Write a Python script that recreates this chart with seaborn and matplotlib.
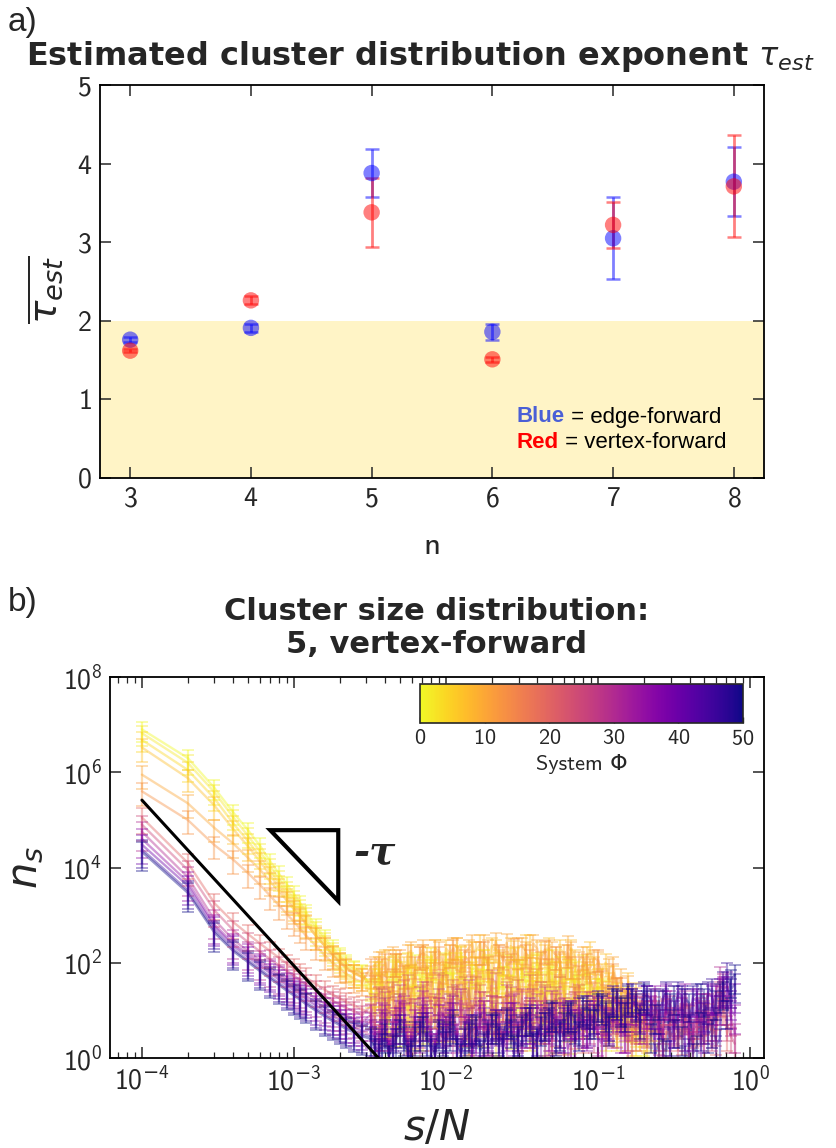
import numpy as np
import pandas as pd
import matplotlib
matplotlib.use("Agg")
import matplotlib.pyplot as plt
import matplotlib.ticker as mticker
import seaborn as sns
from matplotlib.colors import Normalize
from matplotlib.cm import ScalarMappable
from matplotlib.patches import Polygon

# ---------------- panel a data ----------------
n_values = [3, 4, 5, 6, 7, 8]
tau_edge = [1.76, 1.91, 3.88, 1.86, 3.05, 3.77]
tau_edge_err = [0.03, 0.05, 0.30, 0.10, 0.52, 0.44]
tau_vertex = [1.62, 2.26, 3.38, 1.51, 3.22, 3.71]
tau_vertex_err = [0.02, 0.05, 0.44, 0.03, 0.29, 0.65]
shade_top = 2.0

# ---------------- panel b data ----------------
N_system = 10000
s_values = [1, 2, 3, 4, 5, 6, 7, 8, 9, 10, 11, 12, 14, 16, 18, 20, 22, 25, 28,
            32, 36, 40, 45, 50, 56, 63, 71, 80, 90, 100, 112, 126, 141, 158, 178, 200, 224,
            251, 282, 316, 355, 398, 447, 501, 562, 631, 708, 794, 891, 1000, 1122, 1259,
            1413, 1585, 1778, 1995,
            2239, 2512, 2818, 3162, 3548, 3981, 4467, 5012, 5623, 6310, 7079, 7943]
# extra cluster sizes in the dense region (between the ones above)
s_values_mid = [34, 38, 42, 47, 53, 59, 67, 75, 85, 95, 106, 119, 133, 149, 168, 189, 212, 237,
                266, 299, 335, 376, 422, 473, 531, 596, 668, 750, 841, 944, 1059, 1189, 1334,
                1496, 1679, 1884, 2113, 2371, 2661, 2985, 3350, 3758, 4217, 4732, 5309, 5957,
                6683, 7499]
phi_values = [0, 2, 4, 7, 10, 13, 20, 25, 30, 35, 40, 47, 50]
N_ = None
# log10(n_s), one list per system Phi
log_ns_phi00 = [6.90, 6.30, 5.67, 5.15, 4.78, 4.45, 4.12, 3.86, 3.64, 3.44, 3.25, 3.06, 2.76, 2.52, 2.32, 2.14, 2.00, 1.88, 1.80,
                1.45, 1.80, 1.10, 1.90, 0.50, 1.75, 2.00, 1.30, 1.85, 0.90, 2.05, 1.60, 1.95, 0.30, 1.80, 2.10, 1.20, 1.70,
                2.00, 0.70, 1.90, 1.45, 2.05, 1.00, 1.75, 1.95, 0.60, 1.85, 1.30, 1.65, 1.50, 0.40, 1.40, 1.10, 0.80, 0.50, 0.30,
                N_, N_, N_, N_, N_, N_, N_, N_, N_, N_, N_, N_]
mid_ns_phi00 = [1.20, 1.60, 0.70, 1.85, 1.30, 0.40, 1.70, 1.95, 0.90, 1.60, 1.90, 1.15, 0.50, 1.80, 1.45, 2.00, 0.80, 1.75,
                1.55, 1.25, 1.95, 0.60, 1.65, 1.85, 1.05, 1.70, 0.35, 1.55, 1.80, 1.20, 1.45, 0.90, 1.10, 0.60, 0.85, 0.40,
                N_, N_, N_, N_, N_, N_, N_, N_, N_, N_, N_, N_]
log_ns_phi02 = [6.82, 6.20, 5.58, 5.05, 4.66, 4.33, 4.02, 3.76, 3.54, 3.35, 3.16, 2.98, 2.70, 2.46, 2.26, 2.10, 1.96, 1.85, 1.78,
                1.50, 1.85, 0.80, 1.95, 1.60, 2.05, 1.20, 1.90, 2.15, 0.60, 2.00, 1.75, 2.20, 1.30, 1.95, 2.10, 0.90, 2.05,
                1.55, 2.15, 1.85, 0.40, 2.00, 1.70, 2.10, 1.20, 1.90, 1.50, 2.00, 0.80, 1.70, 1.45, 1.10, 1.30, 0.70, 0.30, N_,
                N_, N_, N_, N_, N_, N_, N_, N_, N_, N_, N_, N_]
mid_ns_phi02 = [1.70, 0.90, 1.55, 2.00, 1.10, 1.80, 1.35, 0.55, 1.90, 1.65, 1.00, 2.05, 1.50, 1.85, 0.70, 1.95, 1.40, 1.75,
                0.45, 1.90, 1.60, 2.00, 1.15, 1.80, 1.45, 0.80, 1.90, 1.35, 1.60, 0.95, 1.50, 1.20, 0.50, 1.00, 0.60, N_,
                N_, N_, N_, N_, N_, N_, N_, N_, N_, N_, N_, N_]
log_ns_phi04 = [6.68, 6.05, 5.45, 4.92, 4.55, 4.22, 3.92, 3.67, 3.45, 3.26, 3.08, 2.90, 2.62, 2.40, 2.20, 2.04, 1.92, 1.80, 1.72,
                1.30, 1.70, 0.70, 1.60, 1.85, 1.00, 1.75, 0.40, 1.90, 1.50, 1.80, 0.80, 1.95, 1.30, 1.70, 0.50, 1.85, 1.60,
                1.20, 1.90, 0.90, 1.75, 1.45, 0.30, 1.65, 1.85, 1.10, 1.50, 0.70, 1.60, 1.30, 1.00, 0.60, 1.20, 0.40, 0.80, 0.50,
                0.40, 0.20, N_, N_, N_, N_, N_, N_, N_, N_, N_, N_]
mid_ns_phi04 = [0.90, 1.45, 1.20, 0.50, 1.70, 1.35, 0.80, 1.60, 1.10, 1.75, 0.60, 1.50, 1.85, 0.95, 1.40, 1.65, 0.30, 1.55,
                1.30, 1.70, 0.75, 1.45, 1.20, 1.60, 0.50, 1.35, 1.75, 0.85, 1.25, 1.05, 0.70, 1.15, 0.40, 0.90, 0.30, 0.60,
                0.25, N_, N_, N_, N_, N_, N_, N_, N_, N_, N_, N_]
log_ns_phi07 = [6.52, 5.88, 5.30, 4.80, 4.44, 4.12, 3.83, 3.58, 3.37, 3.18, 3.00, 2.83, 2.56, 2.34, 2.15, 2.00, 1.88, 1.77, 1.70,
                1.60, 1.95, 2.10, 1.20, 2.00, 1.75, 0.50, 2.20, 2.05, 1.40, 2.30, 1.90, 2.15, 0.90, 2.25, 1.60, 2.35, 2.10,
                1.00, 2.28, 1.80, 2.40, 1.50, 2.20, 0.40, 2.30, 1.95, 2.10, 1.65, 2.25, 1.20, 2.00, 1.75, 0.70, 1.60, 1.40, 0.90,
                N_, N_, N_, N_, N_, N_, N_, N_, N_, N_, N_, N_]
mid_ns_phi07 = [1.85, 2.05, 1.30, 2.10, 1.95, 2.20, 0.90, 2.15, 2.30, 1.70, 2.20, 2.35, 1.40, 2.25, 2.40, 1.90, 2.30, 1.10,
                2.35, 2.15, 2.40, 1.60, 2.25, 2.35, 1.85, 2.20, 2.30, 1.30, 2.15, 1.95, 1.80, 1.60, 1.40, 1.10, 0.80, 0.60,
                N_, N_, N_, N_, N_, N_, N_, N_, N_, N_, N_, N_]
log_ns_phi10 = [5.95, 5.35, 4.83, 4.50, 4.20, 3.95, 3.70, 3.50, 3.30, 3.12, 2.96, 2.81, 2.56, 2.35, 2.17, 2.02, 1.90, 1.78, 1.70,
                1.75, 2.05, 1.40, 2.15, 0.90, 2.20, 1.60, 2.30, 1.10, 2.25, 1.85, 2.35, 0.70, 2.30, 1.95, 2.40, 1.30, 2.20,
                2.42, 1.00, 2.35, 1.70, 2.30, 0.60, 2.25, 2.00, 2.38, 1.20, 2.15, 1.90, 2.05, 0.80, 1.95, 1.70, 1.55, 1.30, 1.00,
                N_, N_, N_, N_, N_, N_, N_, N_, N_, N_, N_, N_]
mid_ns_phi10 = [1.95, 1.60, 2.10, 2.00, 1.45, 2.25, 2.15, 1.75, 2.30, 2.00, 1.20, 2.35, 2.20, 2.40, 1.65, 2.30, 2.45, 2.05,
                1.50, 2.35, 2.25, 2.40, 1.90, 2.30, 2.15, 1.40, 2.25, 2.05, 1.85, 2.10, 1.70, 1.90, 1.50, 1.25, 1.05, 0.70,
                0.40, N_, N_, N_, N_, N_, N_, N_, N_, N_, N_, N_]
log_ns_phi13 = [5.60, 5.00, 4.47, 4.16, 3.88, 3.63, 3.40, 3.20, 3.02, 2.86, 2.71, 2.57, 2.35, 2.15, 2.00, 1.88, 1.77, 1.66, 1.60,
                1.90, 1.30, 2.00, 1.70, 2.10, 0.60, 1.95, 2.20, 1.50, 2.15, 1.00, 2.30, 1.85, 2.05, 1.40, 2.25, 0.80, 2.20,
                1.95, 2.32, 1.25, 2.10, 1.70, 2.28, 1.05, 2.05, 2.20, 0.50, 1.95, 1.60, 2.10, 1.35, 1.80, 1.50, 1.20, 0.60, N_,
                N_, N_, N_, N_, N_, N_, N_, N_, N_, N_, N_, N_]
mid_ns_phi13 = [1.55, 1.90, 1.05, 2.00, 1.75, 1.30, 2.15, 1.60, 2.05, 0.90, 2.20, 1.80, 2.10, 1.55, 2.25, 1.95, 0.80, 2.15,
                2.00, 1.70, 2.20, 1.35, 2.05, 1.90, 2.15, 1.00, 1.95, 1.75, 2.00, 1.40, 1.65, 1.30, 1.50, 0.90, 0.70, 0.45,
                N_, N_, N_, N_, N_, N_, N_, N_, N_, N_, N_, N_]
log_ns_phi20 = [5.05, 4.10, 3.25, 2.85, 2.60, 2.40, 2.24, 2.10, 1.98, 1.88, 1.78, 1.69, 1.55, 1.43, 1.33, 1.25, 1.18, 1.10, 1.02,
                0.95, 1.30, 0.60, 1.40, 0.90, 1.55, 0.30, 1.35, 1.10, 1.60, 0.70, 1.45, 1.20, 0.40, 1.50, 1.00, 1.65, 0.80,
                1.40, 1.20, 0.50, 1.55, 1.00, 1.35, 0.70, 1.50, 0.90, 1.30, 0.45, 1.20, 1.00, 0.60, 1.10, 0.80, 1.25, 0.50, 1.00,
                0.70, 1.00, 0.50, 0.80, 0.40, 0.90, 0.60, 0.30, 0.70, 1.20, 0.50, N_]
mid_ns_phi20 = [1.15, 0.50, 1.30, 0.80, 1.45, 1.05, 0.35, 1.40, 0.95, 1.55, 0.60, 1.25, 1.50, 0.85, 1.35, 0.45, 1.60, 1.10,
                0.70, 1.45, 1.20, 0.55, 1.40, 0.95, 1.30, 0.40, 1.15, 1.35, 0.75, 1.05, 0.85, 1.20, 0.55, 0.95, 0.70, 1.10,
                0.60, 0.90, 0.35, 0.75, 0.50, 0.85, 0.20, 0.65, 0.95, 0.40, 1.05, N_]
log_ns_phi25 = [4.90, 3.95, 3.10, 2.68, 2.43, 2.23, 2.07, 1.94, 1.83, 1.73, 1.63, 1.55, 1.42, 1.30, 1.20, 1.12, 1.05, 0.98, 0.90,
                1.10, 0.50, 1.20, 0.80, 1.35, 0.40, 1.05, 1.40, 0.70, 1.25, 0.30, 1.30, 0.95, 1.45, 0.60, 1.20, 1.00, 0.35,
                1.35, 0.85, 1.25, 0.55, 1.15, 1.30, 0.40, 1.05, 0.80, 1.20, 0.60, 0.95, 1.10, 0.30, 0.85, 1.00, 0.50, 0.90, 1.15,
                0.80, 0.40, 1.05, 0.60, 0.90, 0.30, 0.75, 1.00, 0.50, 1.40, 0.70, 0.30]
mid_ns_phi25 = [0.70, 1.25, 0.30, 1.10, 0.95, 0.45, 1.30, 0.75, 1.15, 0.25, 1.05, 1.35, 0.60, 0.90, 1.20, 0.40, 1.10, 0.80,
                1.30, 0.50, 0.95, 1.25, 0.65, 0.85, 1.15, 0.35, 1.00, 0.75, 1.20, 0.45, 0.90, 0.60, 1.05, 0.70, 0.30, 0.95,
                0.55, 1.10, 0.65, 0.85, 0.25, 0.95, 0.55, 0.80, 1.15, 0.60, 1.30, 0.45]
log_ns_phi30 = [4.75, 3.80, 2.90, 2.48, 2.24, 2.04, 1.88, 1.75, 1.64, 1.55, 1.45, 1.37, 1.25, 1.14, 1.05, 0.97, 0.90, 0.82, 0.76,
                0.90, 0.40, 1.05, 0.70, 1.15, 0.25, 0.95, 1.20, 0.55, 1.05, 0.85, 0.30, 1.25, 0.65, 1.00, 0.45, 1.10, 0.80,
                0.20, 1.15, 0.60, 1.00, 0.40, 0.90, 1.20, 0.50, 0.85, 0.30, 1.00, 0.70, 0.45, 1.05, 0.60, 0.90, 0.35, 1.10, 0.80,
                1.00, 0.55, 1.20, 0.70, 1.05, 0.40, 0.95, 1.15, 0.60, 1.70, 1.10, 0.50]
mid_ns_phi30 = [0.55, 0.95, 0.20, 0.85, 1.10, 0.40, 0.75, 1.00, 0.30, 0.90, 1.15, 0.50, 0.80, 0.20, 1.05, 0.70, 0.95, 0.35,
                1.10, 0.65, 0.85, 0.25, 1.00, 0.55, 0.75, 1.05, 0.40, 0.90, 0.60, 1.10, 0.35, 0.80, 1.00, 0.50, 1.15, 0.70,
                0.90, 1.25, 0.45, 1.10, 0.80, 1.20, 0.35, 1.05, 0.75, 1.35, 1.55, 0.85]
log_ns_phi35 = [4.60, 3.70, 2.80, 2.40, 2.18, 1.98, 1.83, 1.70, 1.58, 1.48, 1.39, 1.30, 1.17, 1.06, 0.96, 0.88, 0.80, 0.72, 0.65,
                0.75, 0.30, 0.90, 0.55, 1.00, 0.20, 0.80, 1.05, 0.40, 0.90, 0.65, 1.10, 0.25, 0.85, 0.50, 1.00, 0.70, 0.30,
                0.95, 0.45, 0.85, 1.05, 0.35, 0.75, 0.55, 0.95, 0.20, 0.80, 0.60, 1.00, 0.40, 0.85, 1.05, 0.50, 0.95, 1.20, 0.70,
                1.10, 0.80, 1.30, 0.60, 1.15, 0.90, 1.25, 0.50, 1.10, 1.45, 1.60, 0.90]
mid_ns_phi35 = [0.45, 0.80, 0.15, 0.70, 0.95, 0.35, 0.60, 0.85, 0.20, 0.75, 0.95, 0.40, 0.65, 0.15, 0.90, 0.55, 0.80, 0.30,
                0.95, 0.50, 0.70, 0.20, 0.85, 0.45, 0.65, 0.90, 0.35, 0.80, 0.55, 1.00, 0.30, 0.75, 0.95, 0.50, 1.10, 0.75,
                1.00, 1.30, 0.40, 1.20, 0.85, 1.35, 0.55, 1.15, 0.70, 1.30, 1.50, 1.00]
log_ns_phi40 = [4.48, 3.62, 2.75, 2.35, 2.12, 1.93, 1.78, 1.64, 1.52, 1.42, 1.33, 1.24, 1.10, 0.98, 0.88, 0.80, 0.72, 0.64, 0.56,
                0.60, 0.20, 0.75, 0.40, 0.85, 0.15, 0.65, 0.90, 0.30, 0.70, 0.50, 0.95, 0.20, 0.70, 0.45, 0.85, 0.30, 0.75,
                0.55, 0.95, 0.25, 0.70, 0.90, 0.40, 0.80, 0.60, 1.00, 0.35, 0.85, 0.65, 1.05, 0.80, 1.15, 0.95, 1.25, 1.05, 1.30,
                1.20, 0.90, 1.35, 1.00, 1.25, 0.70, 1.20, 0.95, 1.30, 1.10, 1.50, 1.35]
mid_ns_phi40 = [0.35, 0.55, 0.10, 0.60, 0.70, 0.25, 0.50, 0.75, 0.15, 0.60, 0.80, 0.30, 0.55, 0.10, 0.75, 0.45, 0.65, 0.20,
                0.80, 0.40, 0.60, 0.85, 0.30, 0.70, 0.95, 0.50, 0.80, 1.05, 0.60, 0.90, 1.10, 0.70, 1.20, 0.85, 1.25, 0.95,
                1.30, 0.40, 1.20, 0.15, 1.30, 0.55, 1.25, 0.30, 1.35, 0.75, 1.45, 1.20]
log_ns_phi47 = [4.38, 3.52, 2.68, 2.28, 2.05, 1.86, 1.70, 1.57, 1.45, 1.35, 1.26, 1.17, 1.03, 0.91, 0.81, 0.73, 0.65, 0.57, 0.50,
                0.45, 0.15, 0.60, 0.30, 0.70, 0.10, 0.55, 0.75, 0.25, 0.60, 0.40, 0.80, 0.15, 0.55, 0.70, 0.35, 0.75, 0.50,
                0.85, 0.30, 0.70, 0.90, 0.45, 0.80, 1.00, 0.60, 0.95, 0.75, 1.10, 0.85, 1.20, 1.00, 1.30, 1.10, 1.35, 1.20, 1.40,
                1.25, 0.30, 1.40, 0.60, 1.30, 0.20, 1.35, 0.70, 1.45, 0.40, 1.80, 1.55]
mid_ns_phi47 = [0.25, 0.40, 0.05, 0.50, 0.55, 0.20, 0.65, 0.45, 0.10, 0.50, 0.65, 0.25, 0.45, 0.70, 0.20, 0.60, 0.80, 0.40,
                0.70, 0.55, 0.85, 0.35, 0.75, 0.95, 0.50, 0.85, 1.00, 0.65, 1.10, 0.90, 1.15, 0.75, 1.25, 1.05, 1.35, 0.90,
                1.30, 0.10, 1.25, 0.45, 1.40, 0.05, 1.30, 0.55, 1.40, 0.25, 1.60, 1.45]
log_ns_phi50 = [4.33, 3.47, 2.63, 2.24, 2.01, 1.82, 1.66, 1.53, 1.41, 1.31, 1.22, 1.13, 0.99, 0.87, 0.77, 0.69, 0.61, 0.53, 0.46,
                0.40, 0.10, 0.50, 0.25, 0.60, 0.05, 0.45, 0.65, 0.20, 0.55, 0.35, 0.70, 0.10, 0.50, 0.65, 0.30, 0.70, 0.45,
                0.80, 0.25, 0.65, 0.85, 0.40, 0.75, 0.95, 0.55, 0.90, 0.70, 1.05, 0.80, 1.15, 0.95, 1.25, 1.05, 1.30, 1.15, 1.35,
                0.50, 1.20, 0.15, 1.30, 0.45, 1.15, 0.25, 1.25, 0.60, 1.35, 1.00, 1.75]
mid_ns_phi50 = [0.20, 0.30, 0.05, 0.40, 0.45, 0.15, 0.55, 0.35, 0.05, 0.45, 0.55, 0.20, 0.40, 0.60, 0.15, 0.50, 0.70, 0.30,
                0.60, 0.45, 0.75, 0.30, 0.65, 0.85, 0.45, 0.75, 0.95, 0.55, 1.00, 0.80, 1.10, 0.65, 1.20, 0.95, 1.25, 0.80,
                1.20, 0.90, 0.20, 1.15, 0.60, 1.25, 0.10, 1.35, 0.50, 1.20, 1.40, 1.65]
log_ns_series = [log_ns_phi00, log_ns_phi02, log_ns_phi04, log_ns_phi07, log_ns_phi10, log_ns_phi13,
                 log_ns_phi20, log_ns_phi25, log_ns_phi30, log_ns_phi35, log_ns_phi40, log_ns_phi47,
                 log_ns_phi50]
mid_ns_series = [mid_ns_phi00, mid_ns_phi02, mid_ns_phi04, mid_ns_phi07, mid_ns_phi10, mid_ns_phi13,
                 mid_ns_phi20, mid_ns_phi25, mid_ns_phi30, mid_ns_phi35, mid_ns_phi40, mid_ns_phi47,
                 mid_ns_phi50]
err_frac = [0.45, 0.45, 0.45, 0.5, 0.5, 0.5, 0.55, 0.55, 0.6, 0.6, 0.6, 0.6, 0.6]
fit_x = [1e-4, 3.6e-3]
fit_y = [2.6e5, 1.0]
cbar_ticks = [0, 10, 20, 30, 40, 50]

# ---------------- style ----------------
sns.set_theme(style="ticks")
plt.rcParams["font.family"] = ["cmss10", "DejaVu Sans"]
plt.rcParams["mathtext.fontset"] = "dejavusans"
plt.rcParams["axes.formatter.use_mathtext"] = True

W, H = 837, 1148
fig = plt.figure(figsize=(W / 100, H / 100), dpi=100)


def fx(px):
    return px / W


def fy(py):
    return 1 - py / H


def log_fmt(v, pos):
    e = int(round(np.log10(v)))
    if e < 0:
        return r"$\mathdefault{10}^{\mathrm{-}\mathdefault{%d}}$" % (-e)
    return r"$\mathdefault{10}^{\mathdefault{%d}}$" % e


# ---------------- panel a ----------------
axa = fig.add_axes([fx(100), fy(478), fx(664), 393 / H])
axa.axhspan(0, shade_top, color="#fff4c6", zorder=0, lw=0)
df_a = pd.DataFrame({"n": n_values * 2,
                     "tau": tau_edge + tau_vertex,
                     "err": tau_edge_err + tau_vertex_err,
                     "kind": ["edge"] * 6 + ["vertex"] * 6})
pal = {"edge": "#0000ff", "vertex": "#ff0000"}
for kind in ["edge", "vertex"]:
    sub = df_a[df_a["kind"] == kind]
    axa.errorbar(sub["n"], sub["tau"], yerr=sub["err"], fmt="none", ecolor=pal[kind],
                 alpha=0.5, capsize=5, elinewidth=2, capthick=1.8, zorder=2)
    sns.scatterplot(data=sub, x="n", y="tau", color=pal[kind], alpha=0.5, s=140,
                    edgecolor="none", ax=axa, zorder=3, legend=False)
axa.set_xlim(2.75, 8.25)
axa.set_ylim(0, 5)
axa.set_xticks(n_values)
axa.set_yticks([0, 1, 2, 3, 4, 5])
axa.tick_params(direction="in", top=True, right=True, length=8, width=1.1,
                labelsize=20, pad=6)
axa.set_xlabel("")
axa.set_ylabel("")
for sp in axa.spines.values():
    sp.set_linewidth(1.3)
    sp.set_color("black")

lab_font = "Liberation Sans"
t1 = axa.text((517 - 100) / 664, 1 - (417 - 85) / 393, "Blue", transform=axa.transAxes,
              color="#4a5fd6", fontweight="bold", fontsize=16, family=lab_font, va="center")
axa.annotate(" = edge-forward", xy=(1, 0.5), xycoords=t1, va="center", fontsize=16,
             family=lab_font, color="black")
t2 = axa.text((517 - 100) / 664, 1 - (443 - 85) / 393, "Red", transform=axa.transAxes,
              color="#ff0000", fontweight="bold", fontsize=16, family=lab_font, va="center")
axa.annotate(" = vertex-forward", xy=(1, 0.5), xycoords=t2, va="center", fontsize=16,
             family=lab_font, color="black")

fig.text(fx(8), fy(22), "a)", fontsize=24, family=lab_font, va="center", ha="left")
fig.text(fx(420), fy(57), r"Estimated cluster distribution exponent $\tau_{est}$",
         fontsize=23, fontweight="bold", family="DejaVu Sans", ha="center", va="center")
fig.text(fx(45), fy(290), r"$\overline{\tau_{est}}$", fontsize=28, rotation=90,
         ha="center", va="center")
fig.text(fx(432), fy(545), "n", fontsize=24, ha="center", va="center")

# ---------------- panel b ----------------
axb = fig.add_axes([fx(110), fy(1058), fx(654), 381 / H])
axb.set_xscale("log")
axb.set_yscale("log")
rows = []
for phi, logs, mids in zip(phi_values, log_ns_series, mid_ns_series):
    xs = list(s_values) + list(s_values_mid)
    vals = np.array(list(logs) + list(mids), dtype=float)
    for s, lv in zip(xs, vals):
        if not np.isnan(lv):
            rows.append({"sN": s / N_system, "ns": 10 ** lv, "phi": phi})
df_b = pd.DataFrame(rows).sort_values(["phi", "sN"]).reset_index(drop=True)

cmap = plt.get_cmap("plasma_r")
norm = Normalize(0, 50)
sns.lineplot(data=df_b, x="sN", y="ns", hue="phi", units="phi", estimator=None,
             palette="plasma_r", hue_norm=(0, 50), legend=False, alpha=0.42, lw=1.7,
             sort=False, ax=axb)
for phi, frac in zip(phi_values, err_frac):
    sub = df_b[df_b["phi"] == phi]
    axb.errorbar(sub["sN"], sub["ns"], yerr=frac * sub["ns"], fmt="none",
                 ecolor=cmap(norm(phi)), alpha=0.4, capsize=4, elinewidth=1.6, capthick=1.3)
axb.plot(fit_x, fit_y, color="black", lw=2.2, zorder=5)
tri = Polygon([(0.245, 0.598), (0.349, 0.598), (0.349, 0.412)], closed=True, fill=False,
              lw=3, edgecolor="black", transform=axb.transAxes, zorder=6)
axb.add_patch(tri)
axb.text(0.372, 0.538, "-τ", transform=axb.transAxes, fontsize=28, fontweight="bold",
         fontstyle="italic", family="DejaVu Serif", va="center", ha="left")
axb.set_xlim(10 ** -4.21, 10 ** 0.092)
axb.set_ylim(1, 1e8)
axb.set_yticks([1e0, 1e2, 1e4, 1e6, 1e8])
axb.yaxis.set_minor_locator(mticker.NullLocator())
axb.xaxis.set_major_locator(mticker.LogLocator(base=10, numticks=10))
axb.xaxis.set_minor_locator(mticker.LogLocator(base=10, subs=np.arange(2, 10), numticks=20))
axb.xaxis.set_minor_formatter(mticker.NullFormatter())
axb.xaxis.set_major_formatter(mticker.FuncFormatter(log_fmt))
axb.yaxis.set_major_formatter(mticker.FuncFormatter(log_fmt))
axb.tick_params(which="major", direction="in", top=True, right=True, length=8, width=1.1,
                labelsize=20, pad=6)
axb.tick_params(which="minor", direction="in", top=True, right=True, length=4, width=0.9)
axb.set_xlabel("")
axb.set_ylabel("")
for sp in axb.spines.values():
    sp.set_linewidth(1.3)
    sp.set_color("black")

fig.text(fx(8), fy(603), "b)", fontsize=24, family=lab_font, va="center", ha="left")
fig.text(fx(437), fy(628), "Cluster size distribution:\n5, vertex-forward",
         fontsize=22, fontweight="bold", family="DejaVu Sans", ha="center", va="center",
         linespacing=1.15)
fig.text(fx(28), fy(868), r"$n_s$", fontsize=30, rotation=90, ha="center", va="center")
fig.text(fx(437), fy(1128), r"$s/N$", fontsize=30, ha="center", va="center")

# colorbar
cax = fig.add_axes([fx(420), fy(723), fx(323), 39 / H])
cb = fig.colorbar(ScalarMappable(norm=norm, cmap=cmap), cax=cax, orientation="horizontal")
cb.set_ticks(cbar_ticks)
cax.tick_params(direction="in", length=4, width=1, labelsize=16, pad=4)
cb.outline.set_linewidth(1.2)
cb.set_label("System Φ", fontsize=16, labelpad=4)

fig.savefig("out.png", dpi=100)
